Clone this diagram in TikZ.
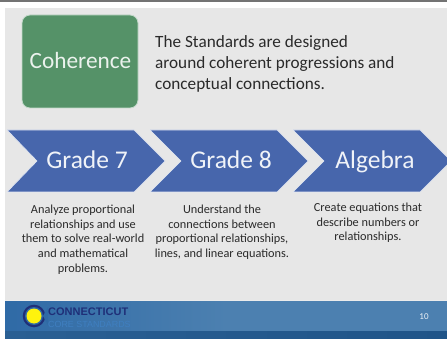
\documentclass[tikz,border=0pt]{standalone}
\usepackage{fontspec}
\setmainfont{Carlito}
\newfontfamily\logofont{Liberation Sans}
\definecolor{bg}{HTML}{E7E7E7}
\definecolor{greenbox}{HTML}{559268}
\definecolor{chev}{HTML}{4766AC}
\definecolor{ink}{HTML}{2A2A2A}
\definecolor{footA}{HTML}{2F6AA6}
\definecolor{footB}{HTML}{4C80B0}
\definecolor{footC}{HTML}{2A5F93}
\definecolor{footD}{HTML}{1F5488}
\definecolor{navy}{HTML}{1F2F78}
\definecolor{coreblue}{HTML}{3F7FC0}
\tikzset{
  x=1pt,y=-1pt,
  chevshape/.style={fill=chev,draw=white!85!chev,line width=.6pt},
  chevlabel/.style={text=white!92!chev,font=\fontsize{25.5}{25.5}\selectfont,anchor=base,inner sep=0pt},
  desc/.style={text=ink,font=\fontsize{12.3}{14.8}\selectfont,align=center,anchor=north,inner sep=0pt},
}
\begin{document}
\begin{tikzpicture}
\useasboundingbox (0,0) rectangle (447,339);
\fill[white] (0,0) rectangle (447,339);
\fill[black!55] (0,0) rectangle (447,2);
\fill[bg] (5,8) rectangle (447,301);
\begin{scope}
\clip (0,0) rectangle (447,339);
\draw[chevshape] (7,130) -- (134,130) -- (165,161) -- (134,192) -- (7,192) -- (37,161) -- cycle;
\draw[chevshape] (150,130) -- (277,130) -- (308,161) -- (277,192) -- (150,192) -- (181,161) -- cycle;
\draw[chevshape] (293,130) -- (420,130) -- (451,161) -- (420,192) -- (293,192) -- (324,161) -- cycle;
\end{scope}
\node[chevlabel] (g7) at (87,169) {Grade 7};
\node[chevlabel] (g8) at (231,169) {Grade 8};
\node[chevlabel] (alg) at (375,169) {Algebra};
\node[draw=white!65!greenbox,line width=.8pt,fill=greenbox,rounded corners=8pt,minimum width=116pt,minimum height=93pt,inner sep=0pt] (coh) at (80,61.5) {};
\node[text=white!88!greenbox,font=\fontsize{23.3}{24}\selectfont,anchor=base,inner sep=0pt] (cohl) at (80.5,69) {Coherence};
\node[text=ink,font=\fontsize{17.2}{21}\selectfont,align=left,anchor=north west,inner sep=0pt] (intro) at (155,35.5) {The Standards are designed\\around coherent progressions and\\conceptual connections.};
\node[desc] (d7) at (83,204.5) {Analyze proportional\\relationships and use\\them to solve real-world\\and mathematical\\problems.};
\node[desc] (d8) at (222,204.5) {Understand the\\connections between\\proportional relationships,\\lines, and linear equations.};
\node[desc] (da) at (368,202.5) {Create equations that\\describe numbers or\\relationships.};
% footer
\shade[left color=footA,right color=footB,middle color=footB] (5,301) rectangle (447,331);
\shade[left color=footC,right color=footD] (5,331) rectangle (447,339);
\fill[black!6,opacity=.5] (5,300.4) rectangle (447,301.4);
% logo
\fill[navy] (34,316) circle (11.3pt);
\fill[footA] (34,316) circle (9pt);
\fill[yellow!95!white] (34,316) circle (7.5pt);
\fill[footA] (43,316) -- (48,307) -- (48,325) -- cycle;
\node[font=\logofont\bfseries\fontsize{11}{11}\selectfont,text=navy,anchor=base west,inner sep=0pt] (ct) at (48,315) {CONNECTICUT};
\node[font=\logofont\fontsize{8.9}{10}\selectfont,text=coreblue,anchor=base west,inner sep=0pt] (cs) at (48,327) {CORE STANDARDS};
\node[font=\fontsize{9}{9}\selectfont,text=white!90!footB,anchor=center,inner sep=0pt] (pg) at (424,317) {10};
\end{tikzpicture}
\end{document}
